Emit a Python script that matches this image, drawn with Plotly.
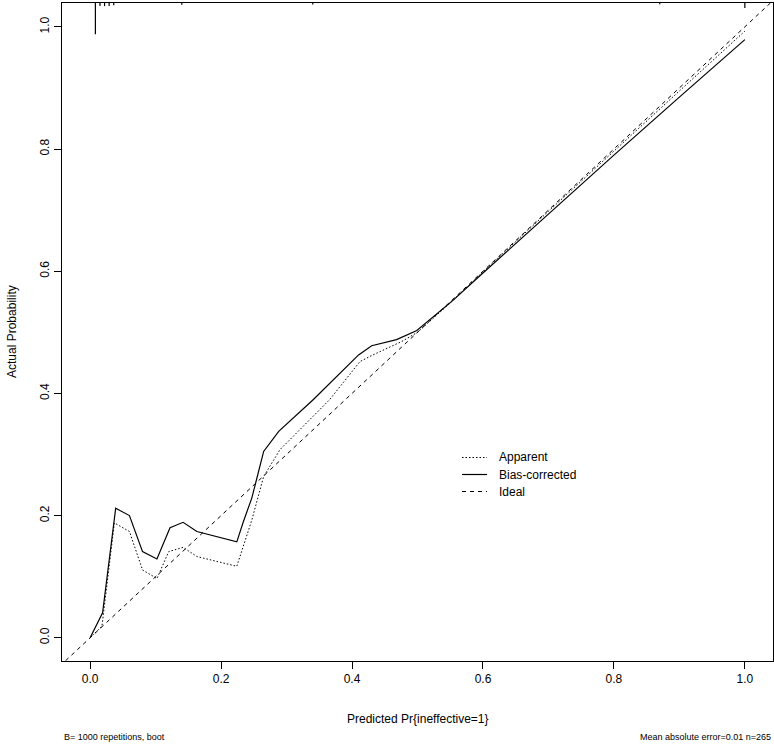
import plotly.graph_objects as go

# ---- data ----
apparent_x = [0.0, 0.018, 0.037, 0.060, 0.080, 0.102, 0.120, 0.142, 0.163, 0.224,
              0.247, 0.265, 0.290, 0.321, 0.366, 0.412, 0.430, 0.476, 0.500, 0.550,
              0.600, 0.700, 0.800, 0.900, 1.000]
apparent_y = [0.0, 0.019, 0.188, 0.174, 0.111, 0.097, 0.141, 0.148, 0.133, 0.117,
              0.193, 0.264, 0.308, 0.341, 0.390, 0.452, 0.462, 0.485, 0.500, 0.548,
              0.599, 0.698, 0.797, 0.895, 0.993]

bias_x = [0.0, 0.019, 0.039, 0.060, 0.080, 0.102, 0.122, 0.142, 0.163, 0.224,
          0.234, 0.247, 0.265, 0.288, 0.341, 0.410, 0.430, 0.468, 0.499, 0.555,
          0.600, 0.700, 0.800, 0.900, 1.000]
bias_y = [0.0, 0.041, 0.212, 0.200, 0.141, 0.129, 0.180, 0.189, 0.174, 0.157,
          0.190, 0.229, 0.305, 0.338, 0.390, 0.463, 0.478, 0.488, 0.503, 0.553,
          0.597, 0.694, 0.790, 0.885, 0.979]

ideal_x = [-0.1, 1.1]
ideal_y = [-0.1, 1.1]

# distribution of predicted values (top rug), relative frequency
rug_x = [0.008, 0.015, 0.022, 0.029, 0.036, 0.140, 0.340, 0.870, 1.000]
rug_f = [1.00, 0.10, 0.10, 0.10, 0.07, 0.06, 0.05, 0.04, 0.16]

x_ticks = [0.0, 0.2, 0.4, 0.6, 0.8, 1.0]
y_ticks = [0.0, 0.2, 0.4, 0.6, 0.8, 1.0]

legend_labels = ["Apparent", "Bias-corrected", "Ideal"]

X_RANGE = [-0.043, 1.043]
Y_RANGE = [-0.038, 1.039]
RUG_SCALE = 0.051

FONT = "Liberation Sans, Arial, Helvetica, sans-serif"

fig = go.Figure()

fig.add_trace(go.Scatter(x=ideal_x, y=ideal_y, mode="lines",
                         line=dict(color="black", width=1, dash="4px,4px"),
                         showlegend=False, hoverinfo="skip"))
fig.add_trace(go.Scatter(x=apparent_x, y=apparent_y, mode="lines",
                         line=dict(color="black", width=1, dash="1.5px,2px"),
                         showlegend=False))
fig.add_trace(go.Scatter(x=bias_x, y=bias_y, mode="lines",
                         line=dict(color="black", width=1.2),
                         showlegend=False))

# rug segments hanging from the top
rx, ry = [], []
for xv, fv in zip(rug_x, rug_f):
    rx += [xv, xv, None]
    ry += [Y_RANGE[1], Y_RANGE[1] - fv * RUG_SCALE, None]
fig.add_trace(go.Scatter(x=rx, y=ry, mode="lines",
                         line=dict(color="black", width=1.2),
                         showlegend=False, hoverinfo="skip"))

W, H = 774, 744
L, R, T, B = 62, 1, 3, 83
PW, PH = W - L - R, H - T - B


def px(xp):
    return (xp - L) / PW


def py(yp):
    return (H - B - yp) / PH


shapes = []
annotations = []
dashes = ["1.5px,2px", "solid", "4px,4px"]
rows = [457.5, 474.5, 491.5]
for lab, d, yr in zip(legend_labels, dashes, rows):
    shapes.append(dict(type="line", xref="paper", yref="paper",
                       x0=px(462), x1=px(487), y0=py(yr), y1=py(yr),
                       line=dict(color="black", width=1.2 if d == "solid" else 1, dash=d)))
    annotations.append(dict(text=lab, xref="paper", yref="paper",
                            x=px(497), y=py(yr), xanchor="left", yanchor="middle",
                            showarrow=False, font=dict(family=FONT, size=12, color="black")))

annotations.append(dict(text="Predicted Pr{ineffective=1}", xref="paper", yref="paper",
                        x=0.5, y=py(719), xanchor="center", yanchor="middle",
                        showarrow=False, font=dict(family=FONT, size=12, color="black")))
annotations.append(dict(text="Actual Probability", xref="paper", yref="paper",
                        x=px(12), y=0.5, xanchor="center", yanchor="middle", textangle=-90,
                        showarrow=False, font=dict(family=FONT, size=12, color="black")))
annotations.append(dict(text="B= 1000 repetitions, boot", xref="paper", yref="paper",
                        x=px(62), y=py(737), xanchor="left", yanchor="middle",
                        showarrow=False, font=dict(family=FONT, size=9, color="black")))
annotations.append(dict(text="Mean absolute error=0.01 n=265", xref="paper", yref="paper",
                        x=px(773), y=py(737), xanchor="right", yanchor="middle",
                        showarrow=False, font=dict(family=FONT, size=9, color="black")))

axis_common = dict(showgrid=False, zeroline=False, showline=True, mirror=True,
                   linecolor="black", linewidth=1, ticks="outside", ticklen=7,
                   tickcolor="black", tickwidth=1, tickformat=".1f",
                   tickfont=dict(family=FONT, size=12, color="black"))

fig.update_layout(
    width=W, height=H,
    margin=dict(l=L, r=R, t=T, b=B),
    paper_bgcolor="white", plot_bgcolor="white",
    xaxis=dict(range=X_RANGE, tickvals=x_ticks, **axis_common),
    yaxis=dict(range=Y_RANGE, tickvals=y_ticks, tickangle=-90, **axis_common),
    shapes=shapes, annotations=annotations,
    showlegend=False,
)

fig.write_html("out.html",
               config={"displayModeBar": False},
               post_script="document.body.style.margin='0';document.body.style.overflow='hidden';")
